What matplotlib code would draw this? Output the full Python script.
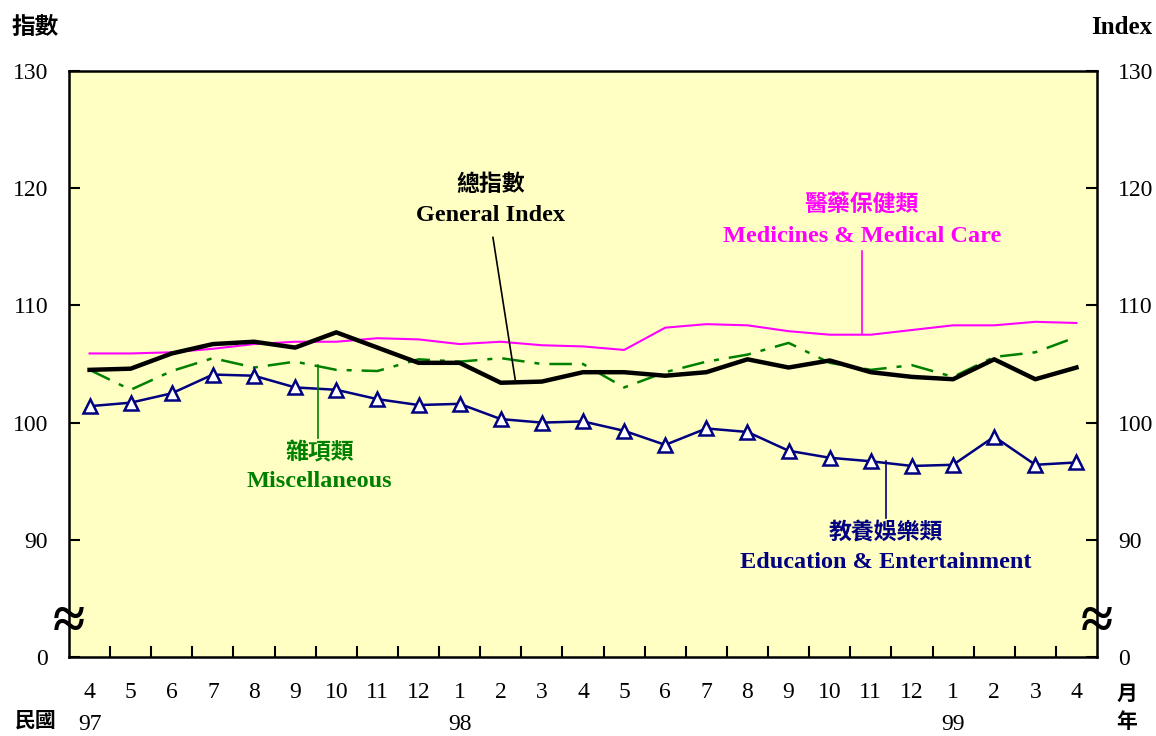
import numpy as np
import matplotlib.pyplot as plt

plt.rcParams['font.family'] = ['Liberation Serif', 'Noto Sans CJK TC', 'DejaVu Sans']

# months 97/4 .. 99/4
months = ['4', '5', '6', '7', '8', '9', '10', '11', '12', '1', '2', '3', '4',
          '5', '6', '7', '8', '9', '10', '11', '12', '1', '2', '3', '4']
years = {0: '97', 9: '98', 21: '99'}

general = [104.5, 104.6, 105.9, 106.7, 106.9, 106.4, 107.7, 106.4, 105.1, 105.1,
           103.4, 103.5, 104.3, 104.3, 104.0, 104.3, 105.4, 104.7, 105.3, 104.3,
           103.9, 103.7, 105.4, 103.7, 104.7]
medical = [105.9, 105.9, 106.0, 106.3, 106.7, 106.9, 106.9, 107.2, 107.1, 106.7,
           106.9, 106.6, 106.5, 106.2, 108.1, 108.4, 108.3, 107.8, 107.5, 107.5,
           107.9, 108.3, 108.3, 108.6, 108.5]
misc = [104.5, 102.8, 104.4, 105.5, 104.7, 105.2, 104.5, 104.4, 105.4, 105.2,
        105.5, 105.0, 105.0, 103.0, 104.3, 105.2, 105.8, 106.8, 105.1, 104.5,
        104.9, 103.9, 105.6, 106.0, 107.3]
education = [101.4, 101.7, 102.5, 104.1, 104.0, 103.0, 102.8, 102.0, 101.5, 101.6,
             100.3, 100.0, 100.1, 99.3, 98.1, 99.5, 99.2, 97.6, 97.0, 96.7,
             96.3, 96.4, 98.8, 96.4, 96.6]

yticks = [80, 90, 100, 110, 120, 130]
ylabels = ['0', '90', '100', '110', '120', '130']

navy = '#000080'
green = '#008000'
magenta = '#FF00FF'

fig = plt.figure(figsize=(11.56, 7.36), dpi=100)
ax = fig.add_axes([69/1156, 1-657/736, (1097-69)/1156, (657-71)/736])
ax.set_facecolor('#FFFFC4')

x = np.arange(len(months))
ax.plot(x, medical, color=magenta, lw=1.5)
ax.plot(x, misc, color=green, lw=1.8, dashes=[9, 4, 2, 4])
ax.plot(x, general, color='black', lw=3.2)
ax.plot(x, education, color=navy, lw=1.8, marker='^', ms=9.5,
        mfc='white', mec=navy, mew=1.8)

ax.set_xlim(-0.5, len(months) - 0.5)
ax.set_ylim(80, 130)

for s in ax.spines.values():
    s.set_linewidth(1.8)

ax.set_yticks(yticks)
ax.set_yticklabels(ylabels)
ax.tick_params(axis='y', direction='in', length=8, width=1.5, right=True,
               labelright=True, labelsize=17, pad=15)
ax.set_xticks(x)
ax.set_xticklabels(months)
ax.set_xticks(np.arange(0.5, len(months) - 1, 1), minor=True)
ax.tick_params(axis='x', which='major', length=0, labelsize=17, pad=18)
ax.tick_params(axis='x', which='minor', direction='in', length=8, width=1.5)

tr = ax.get_xaxis_transform()
for i, yr in years.items():
    ax.text(i, -0.115, yr, transform=tr, ha='center', va='center', fontsize=17)

# axis break marks
for xb in (0, 1):
    ax.text(xb, 82.8, '≈', transform=ax.get_yaxis_transform(), ha='center',
            va='center', fontsize=42, fontweight='bold',
            family='Liberation Serif', clip_on=False)

fig.text(12/1156, 1-27/736, '指數', fontsize=17, fontweight='bold',
         family='Noto Sans CJK TC', va='center', ha='left')
fig.text(1152/1156, 1-27/736, 'Index', fontsize=18, fontweight='bold',
         va='center', ha='right')
fig.text(36/1156, 1-720/736, '民國', fontsize=15, fontweight='bold',
         family='Noto Sans CJK TC', va='center', ha='center')
fig.text(1127/1156, 1-693/736, '月', fontsize=15, fontweight='bold',
         family='Noto Sans CJK TC', va='center', ha='center')
fig.text(1127/1156, 1-722/736, '年', fontsize=15, fontweight='bold',
         family='Noto Sans CJK TC', va='center', ha='center')

# series labels with leader lines
def label(xc, y1, y2, zh, en, color):
    ax.text(xc, y1, zh, color=color, fontsize=16.5, fontweight='bold',
            family='Noto Sans CJK TC', ha='center', va='center')
    ax.text(xc, y2, en, color=color, fontsize=17.5, fontweight='bold',
            ha='center', va='center')

label(9.76, 120.3, 117.7, '總指數', 'General Index', 'black')
ax.plot([9.81, 10.35], [115.8, 103.7], color='black', lw=1.2)

label(18.78, 118.6, 115.9, '醫藥保健類', 'Medicines & Medical Care', magenta)
ax.plot([18.78, 18.78], [114.6, 107.6], color=magenta, lw=1.2)

label(5.6, 97.4, 95.0, '雜項類', 'Miscellaneous', green)
ax.plot([5.55, 5.55], [104.9, 98.7], color=green, lw=1.2)

label(19.37, 90.6, 88.1, '教養娛樂類', 'Education & Entertainment', navy)
ax.plot([19.37, 19.37], [96.7, 91.9], color=navy, lw=1.2)

fig.savefig('out.png', dpi=100)
